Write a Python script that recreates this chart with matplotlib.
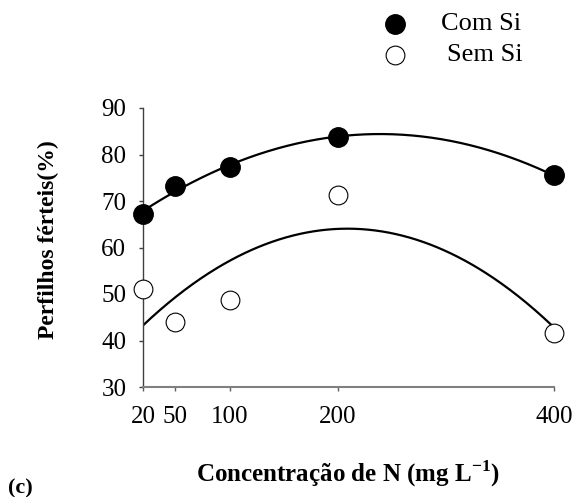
import numpy as np
import matplotlib
matplotlib.use('Agg')
import matplotlib.pyplot as plt

plt.rcParams['font.family'] = ['Liberation Serif', 'DejaVu Serif']
plt.rcParams['mathtext.fontset'] = 'custom'
plt.rcParams['mathtext.rm'] = 'Liberation Serif'
plt.rcParams['mathtext.bf'] = 'Liberation Serif:bold'

# data
doses = [20, 50, 100, 200, 400]
com_si = [67.1, 73.3, 77.3, 83.8, 75.5]
sem_si = [51.1, 43.9, 48.7, 71.2, 41.6]
xticks = [20, 50, 100, 200, 400]
yticks = [30, 40, 50, 60, 70, 80, 90]

fig = plt.figure(figsize=(5.79, 4.97), dpi=100)
ax = fig.add_axes([143 / 579, 1 - 387 / 497, 411 / 579, 279 / 497])

# quadratic fits
xs = np.linspace(20, 400, 300)
for ys in (com_si, sem_si):
    coef = np.polyfit(doses, ys, 2)
    ax.plot(xs, np.polyval(coef, xs), color='black', lw=1.6, zorder=2)

ax.plot(doses, com_si, 'o', color='black', ms=14, zorder=3, clip_on=False)
ax.plot(doses, sem_si, 'o', mfc='white', mec='black', mew=0.8, ms=13.5,
        zorder=3, clip_on=False)

ax.set_xlim(20, 400)
ax.set_ylim(30, 90)
ax.set_xticks(xticks)
ax.set_yticks(yticks)

for s in ['top', 'right']:
    ax.spines[s].set_visible(False)
ax.spines['left'].set_color('#404040')
ax.spines['bottom'].set_color('#808080')
ax.spines['left'].set_linewidth(1.0)
ax.spines['bottom'].set_linewidth(1.5)
ax.tick_params(axis='x', direction='out', length=3, width=1.0, color='#606060',
               labelsize=18, pad=11)
ax.tick_params(axis='y', direction='out', length=3, width=1.0, color='#404040',
               labelsize=18, pad=9)

fig.text(48 / 579, 1 - 240 / 497, 'Perfilhos férteis(%)', fontsize=17,
         fontweight='bold', rotation=90, ha='center', va='center')
fig.text(348 / 579, 1 - 474 / 497, 'Concentração de N (mg L$^{\\mathbf{-1}}$)',
         fontsize=18, fontweight='bold', ha='center', va='center')
fig.text(8 / 579, 1 - 488 / 497, '(c)', fontsize=16, fontweight='bold',
         ha='left', va='center')

# legend drawn by hand like the original
fig.lines.append(plt.Line2D([395 / 579], [1 - 24 / 497], marker='o', color='black',
                            ms=14, transform=fig.transFigure, figure=fig))
fig.lines.append(plt.Line2D([395 / 579], [1 - 55 / 497], marker='o', mfc='white',
                            mec='black', mew=0.8, ms=13.5, transform=fig.transFigure,
                            figure=fig))
fig.text(441 / 579, 1 - 24 / 497, 'Com Si', fontsize=19, va='center')
fig.text(447 / 579, 1 - 55 / 497, 'Sem Si', fontsize=19, va='center')

fig.savefig('out.png', dpi=100)
